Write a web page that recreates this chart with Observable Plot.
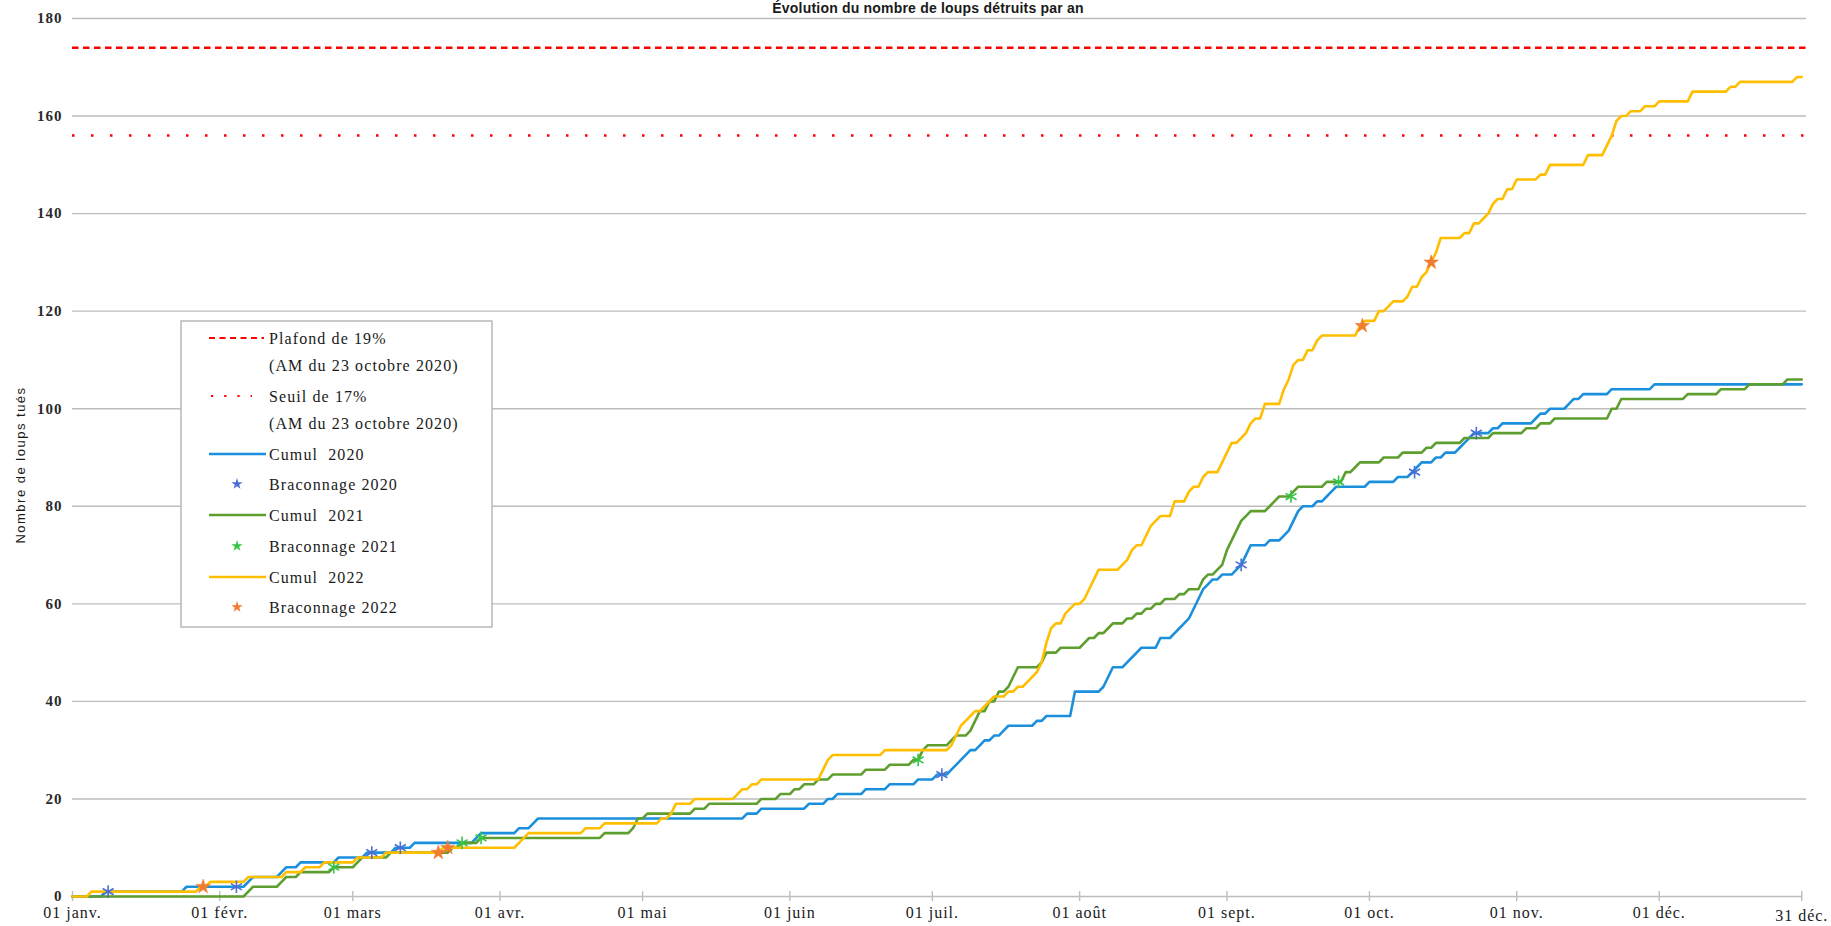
<!DOCTYPE html>
<html><head><meta charset="utf-8">
<script src="https://cdn.jsdelivr.net/npm/d3@7"></script>
<script src="https://cdn.jsdelivr.net/npm/@observablehq/plot@0.6"></script>
<style>
body{margin:0;background:#fff;}
#wrap{position:relative;width:1831px;height:926px;overflow:hidden;background:#fff;}
#overlay{position:absolute;left:0;top:0;pointer-events:none;}
#wrap svg text{letter-spacing:1px;}
</style></head><body><div id="wrap"></div>
<script>
// ---- data ----
const monthTicks = [0, 31, 59, 90, 120, 151, 181, 212, 243, 273, 304, 334];
const monthLabels = ["01 janv.", "01 févr.", "01 mars", "01 avr.", "01 mai", "01 juin", "01 juil.", "01 août", "01 sept.", "01 oct.", "01 nov.", "01 déc."];
const endTick = [364];
const endLabel = "31 déc.";
const yTicks = [0, 20, 40, 60, 80, 100, 120, 140, 160, 180];
const plafond = [174];
const seuil = [156];
const title = "Évolution du nombre de loups détruits par an";
const yLabel = "Nombre de loups tués";

// cumulative totals at the days (day of year, 0 = 1 Jan) where they change
const cumul2020 = [[0,0],[7,1],[24,2],[37,3],[38,4],[44,5],[45,6],[48,7],[56,8],[62,9],[68,10],[72,11],[85,12],[86,13],[94,14],[97,15],[98,16],[142,17],[145,18],[155,19],[159,20],[161,21],[167,22],[172,23],[178,24],[182,25],[185,26],[186,27],[187,28],[188,29],[189,30],[191,31],[192,32],[194,33],[196,34],[197,35],[203,36],[205,37],[211,42],[217,43],[218,45],[219,47],[222,48],[223,49],[224,50],[225,51],[229,53],[232,54],[233,55],[234,56],[235,57],[236,59],[237,61],[238,63],[239,64],[240,65],[242,66],[245,67],[246,68],[247,70],[248,72],[252,73],[255,74],[256,75],[257,77],[258,79],[259,80],[262,81],[264,82],[265,83],[266,84],[273,85],[279,86],[282,87],[283,88],[284,89],[287,90],[289,91],[292,92],[293,93],[294,94],[295,95],[299,96],[301,97],[308,98],[309,99],[311,100],[315,101],[316,102],[318,103],[324,104],[333,105]];
const cumul2021 = [[0,0],[37,1],[38,2],[44,3],[45,4],[48,5],[55,6],[60,7],[61,8],[67,9],[80,10],[82,11],[86,12],[112,13],[118,14],[119,16],[121,17],[131,18],[134,19],[145,20],[149,21],[152,22],[154,23],[157,24],[160,25],[167,26],[172,27],[177,28],[179,30],[180,31],[185,32],[186,33],[189,34],[190,36],[191,38],[193,40],[195,42],[197,43],[198,45],[199,47],[204,48],[205,50],[208,51],[213,52],[214,53],[216,54],[218,55],[219,56],[222,57],[224,58],[226,59],[228,60],[230,61],[233,62],[235,63],[238,65],[239,66],[241,67],[242,68],[243,71],[244,73],[245,75],[246,77],[247,78],[248,79],[252,80],[253,81],[254,82],[257,83],[258,84],[264,85],[268,87],[270,88],[271,89],[276,90],[280,91],[285,92],[287,93],[293,94],[299,95],[306,96],[309,97],[312,98],[324,100],[326,102],[340,103],[347,104],[353,105],[361,106]];
const cumul2022 = [[0,0],[4,1],[27,2],[29,3],[37,4],[45,5],[49,6],[53,7],[60,8],[66,9],[78,10],[94,11],[95,12],[96,13],[108,14],[112,15],[124,16],[126,17],[127,19],[131,20],[140,21],[141,22],[143,23],[145,24],[158,26],[159,28],[160,29],[171,30],[185,31],[186,33],[187,35],[188,36],[189,37],[190,38],[192,39],[193,40],[194,41],[197,42],[199,43],[201,44],[202,45],[203,46],[204,48],[205,52],[206,55],[207,56],[209,58],[210,59],[211,60],[213,61],[214,63],[215,65],[216,67],[221,68],[222,69],[223,71],[224,72],[226,74],[227,76],[228,77],[229,78],[232,81],[235,83],[236,84],[238,86],[239,87],[242,89],[243,91],[244,93],[246,94],[247,95],[248,97],[249,98],[251,101],[255,104],[256,106],[257,109],[258,110],[260,112],[262,114],[263,115],[271,117],[272,118],[275,120],[277,121],[278,122],[281,123],[282,125],[284,127],[285,128],[286,130],[287,132],[288,135],[293,136],[295,138],[297,139],[298,140],[299,142],[300,143],[302,145],[304,147],[309,148],[311,150],[319,152],[323,154],[324,156],[325,159],[326,160],[328,161],[331,162],[334,163],[341,165],[349,166],[351,167],[363,168]];

const brac2020 = [[7.5,1],[34.5,2],[63,9],[69,10],[183,25],[246,68],[282.5,87],[295.5,95]];
const brac2021 = [[55,6],[82,11],[86,12],[178,28],[256.5,82],[266.5,85]];
const brac2022 = [[27.5,2],[77,9],[79,10],[271.5,117],[286,130]];

const colors = {c2020: "#1b8fdc", c2021: "#5e9e2f", c2022: "#ffbf00", b2020: "#4a6fd4", b2021: "#35c648", b2022: "#f07c30", red: "#ff0000"};

// ---- build step series (total held until the next change) ----
function steps(changes) {
  const pts = [];
  let prev = null;
  for (const [d, v] of changes) {
    if (prev !== null && d - 1 > pts[pts.length - 1].day) pts.push({day: d - 1, value: prev});
    pts.push({day: d, value: v});
    prev = v;
  }
  if (pts[pts.length - 1].day < endTick[0]) pts.push({day: endTick[0], value: prev});
  return pts;
}
const labelOf = new Map(monthTicks.map((t, i) => [t, monthLabels[i]]));

const grid = "#bdbdbd";
const plot = Plot.plot({
  width: 1831, height: 926,
  marginLeft: 72, marginRight: 25, marginTop: 18, marginBottom: 30,
  x: {domain: [0, 365], axis: null},
  y: {domain: [0, 180], axis: null},
  style: {fontFamily: "Liberation Serif", fontSize: "16px", background: "white", color: "#1a1a1a"},
  marks: [
    Plot.ruleY(yTicks.slice(1), {stroke: grid, strokeWidth: 1.4}),
    Plot.ruleY([0], {x1: 0, x2: endTick[0], stroke: grid, strokeWidth: 1.6}),
    Plot.ruleX(monthTicks.concat(endTick), {y1: 0, y2: 1, stroke: grid, strokeWidth: 1.4}),
    Plot.axisX(monthTicks, {tickSize: 5, tickPadding: 5, stroke: grid, strokeWidth: 1.4, fill: "#1a1a1a", tickFormat: d => labelOf.get(d), fontSize: 16, label: null}),
    Plot.axisX(endTick, {tickSize: 5, tickPadding: 8, stroke: grid, strokeWidth: 1.4, fill: "#1a1a1a", tickFormat: () => endLabel, fontSize: 16, label: null}),
    Plot.axisY(yTicks, {tickSize: 0, tickPadding: 10, fill: "#2a2a2a", fontSize: 15, fontWeight: "bold", label: null}),
    Plot.ruleY(plafond, {stroke: colors.red, strokeWidth: 2.5, strokeDasharray: "6.5,4.5"}),
    Plot.ruleY(seuil, {stroke: colors.red, strokeWidth: 2.5, strokeDasharray: "2.5,16.5"}),
    Plot.line(steps(cumul2020), {x: "day", y: "value", stroke: colors.c2020, strokeWidth: 2.6}),
    Plot.line(steps(cumul2021), {x: "day", y: "value", stroke: colors.c2021, strokeWidth: 2.6}),
    Plot.line(steps(cumul2022), {x: "day", y: "value", stroke: colors.c2022, strokeWidth: 2.6}),
    Plot.dot(brac2020, {x: d => d[0], y: d => d[1], symbol: "asterisk", r: 6, stroke: colors.b2020, strokeWidth: 1.6}),
    Plot.dot(brac2021, {x: d => d[0], y: d => d[1], symbol: "asterisk", r: 6, stroke: colors.b2021, strokeWidth: 1.6}),
    Plot.dot(brac2022, {x: d => d[0], y: d => d[1], symbol: "star", r: 4.5, fill: colors.b2022, stroke: colors.b2022, strokeWidth: 0.6})
  ]
});
const wrap = document.getElementById("wrap");
wrap.appendChild(plot);

// ---- overlay: title, y label, legend ----
const ov = d3.select(wrap).append("svg").attr("id", "overlay").attr("width", 1831).attr("height", 926);
ov.append("text").attr("x", 928).attr("y", 13).attr("text-anchor", "middle")
  .attr("font-family", "Liberation Sans").attr("font-weight", "bold").attr("font-size", 14)
  .style("letter-spacing", "0.2px").attr("fill", "#1a1a1a").text(title);
ov.append("text").attr("transform", "translate(20,465) rotate(-90)").attr("text-anchor", "middle")
  .attr("dominant-baseline", "central")
  .attr("font-family", "Liberation Sans").attr("font-size", 13).attr("fill", "#1a1a1a")
  .style("letter-spacing", "1.5px").text(yLabel);

const legendRows = [
  {y: 338, text: "Plafond de 19%", kind: "dash", color: colors.red},
  {y: 365, text: "(AM du 23 octobre 2020)"},
  {y: 396, text: "Seuil de 17%", kind: "dot", color: colors.red},
  {y: 423, text: "(AM du 23 octobre 2020)"},
  {y: 454, text: "Cumul  2020", kind: "line", color: colors.c2020},
  {y: 484, text: "Braconnage 2020", kind: "star", color: colors.b2020},
  {y: 515, text: "Cumul  2021", kind: "line", color: colors.c2021},
  {y: 546, text: "Braconnage 2021", kind: "star", color: colors.b2021},
  {y: 577, text: "Cumul  2022", kind: "line", color: colors.c2022},
  {y: 607, text: "Braconnage 2022", kind: "star", color: colors.b2022}
];
const lg = ov.append("g");
lg.append("rect").attr("x", 181).attr("y", 321).attr("width", 311).attr("height", 306)
  .attr("fill", "white").attr("stroke", "#b8b8b8").attr("stroke-width", 1.5);
const starPath = d3.symbol(d3.symbolStar, 40)();
for (const r of legendRows) {
  if (r.kind === "dash") lg.append("line").attr("x1", 209).attr("x2", 264).attr("y1", r.y).attr("y2", r.y)
    .attr("stroke", r.color).attr("stroke-width", 2.2).attr("stroke-dasharray", "6,4.5");
  if (r.kind === "dot") lg.append("line").attr("x1", 211).attr("x2", 252).attr("y1", r.y).attr("y2", r.y)
    .attr("stroke", r.color).attr("stroke-width", 2.2).attr("stroke-dasharray", "2.2,11");
  if (r.kind === "line") lg.append("line").attr("x1", 209).attr("x2", 266).attr("y1", r.y).attr("y2", r.y)
    .attr("stroke", r.color).attr("stroke-width", 2.6);
  if (r.kind === "star") lg.append("path").attr("d", starPath).attr("transform", `translate(237,${r.y})`)
    .attr("fill", r.color);
  lg.append("text").attr("x", 269).attr("y", r.y).attr("dominant-baseline", "central")
    .attr("font-family", "Liberation Serif").attr("font-size", 16).attr("fill", "#1a1a1a")
    .style("letter-spacing", "1.1px").style("white-space", "pre").text(r.text);
}
</script></body></html>
